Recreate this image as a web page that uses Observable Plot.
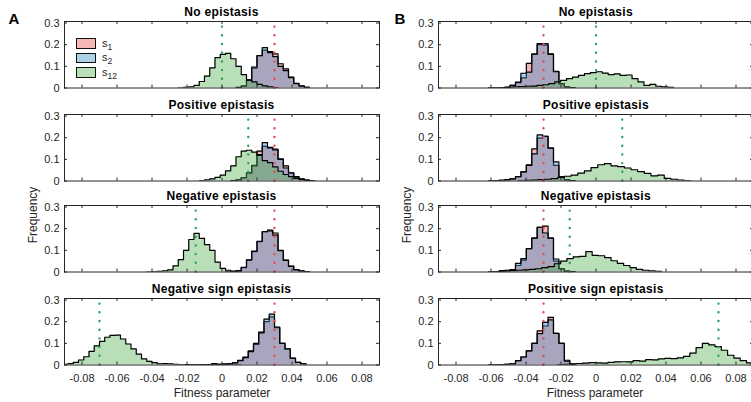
<!DOCTYPE html>
<html><head><meta charset="utf-8">
<script src="https://cdn.jsdelivr.net/npm/d3@7"></script>
<script src="https://cdn.jsdelivr.net/npm/@observablehq/plot@0.6"></script>
<style>
body{margin:0;background:#fff;}
#fig{position:relative;width:751px;height:402px;overflow:hidden;font-family:"Liberation Sans",Arial,sans-serif;color:#262626;}
.abs{position:absolute;white-space:nowrap;line-height:1;}
.ttl{font-weight:bold;font-size:12px;letter-spacing:0.3px;transform:translate(-50%,-50%);color:#000;}
.lab{font-size:12px;transform:translate(-50%,-50%);}
.ylab{font-size:12px;transform:translate(-50%,-50%) rotate(-90deg);}
.big{font-weight:bold;font-size:15px;transform:translate(-50%,-50%);color:#000;}
.sw{position:absolute;width:18px;height:8.5px;border:1px solid #111;}
.lg{font-size:11px;color:#262626;}
.lg sub{font-size:8.5px;vertical-align:-3px;}
</style></head><body><div id="fig"></div>
<script>
// ---------- axis / label data ----------
const xTicks = [-0.08, -0.06, -0.04, -0.02, 0, 0.02, 0.04, 0.06, 0.08];
const yTicks = [0, 0.1, 0.2, 0.3];
const titlesA = ["No epistasis", "Positive epistasis", "Negative epistasis", "Negative sign epistasis"];
const titlesB = ["No epistasis", "Positive epistasis", "Negative epistasis", "Positive sign epistasis"];
const seriesNames = ["s1", "s2", "s12"];
const trueS1 = [0.03, -0.03];               // column A, column B
const trueS12A = [0, 0.015, -0.015, -0.07];
const trueS12B = [0, 0.015, -0.015, 0.07];

// ---------- histogram data: first bin edge, bin width, frequencies ----------
// A1 No epistasis
const A1_start = [0.008, 0.008, -0.025], A1_width = [0.003, 0.003, 0.003];
const A1_s1 = [0.003,0.01,0.038,0.092,0.148,0.175,0.168,0.158,0.112,0.088,0.05,0.022,0.009,0.003];
const A1_s2 = [0.002,0.008,0.035,0.097,0.15,0.186,0.163,0.145,0.1,0.08,0.048,0.02,0.01,0.003];
const A1_s12 = [0.001,0.003,0.005,0.012,0.03,0.055,0.093,0.14,0.155,0.16,0.135,0.1,0.062,0.036,0.028,0.017,0.01,0.005,0.002];
// A2 Positive epistasis
const A2_start = [0.005, 0.005, -0.013], A2_width = [0.003, 0.003, 0.003];
const A2_s1 = [0.002,0.005,0.016,0.036,0.072,0.138,0.16,0.152,0.147,0.102,0.07,0.036,0.018,0.01,0.004,0.002];
const A2_s2 = [0.002,0.005,0.015,0.038,0.07,0.122,0.177,0.155,0.143,0.1,0.06,0.038,0.02,0.009,0.004,0.001];
const A2_s12 = [0.002,0.005,0.01,0.017,0.027,0.047,0.07,0.112,0.138,0.142,0.133,0.118,0.094,0.085,0.065,0.045,0.03,0.02,0.012,0.006,0.002];
// A3 Negative epistasis
const A3_start = [0.002, 0.002, -0.043], A3_width = [0.003, 0.003, 0.003];
const A3_s1 = [0.001,0.002,0.005,0.02,0.055,0.094,0.14,0.185,0.193,0.18,0.1,0.055,0.027,0.01,0.004,0.002];
const A3_s2 = [0.001,0.002,0.006,0.022,0.056,0.096,0.142,0.187,0.19,0.17,0.098,0.054,0.026,0.011,0.005,0.002];
const A3_s12 = [0.001,0.002,0.003,0.005,0.01,0.028,0.057,0.1,0.15,0.178,0.155,0.126,0.1,0.046,0.017,0.008,0.004,0.002];
// A4 Negative sign epistasis
const A4_start = [-0.021, -0.021, -0.091], A4_width = [0.003, 0.003, 0.003];
const A4_s1 = [0.001,0.001,0.001,0.001,0.002,0.002,0.003,0.004,0.007,0.011,0.022,0.036,0.065,0.1,0.152,0.2,0.222,0.172,0.1,0.073,0.031,0.012,0.005];
const A4_s2 = [0.001,0.001,0.001,0.001,0.002,0.006,0.003,0.004,0.005,0.01,0.02,0.034,0.062,0.096,0.148,0.212,0.235,0.175,0.1,0.075,0.032,0.012,0.005];
const A4_s12 = [0.003,0.006,0.012,0.023,0.038,0.063,0.088,0.109,0.128,0.137,0.138,0.12,0.097,0.074,0.05,0.028,0.017,0.011,0.005,0.006,0.005,0.003,0.002,0.002,0.001,0.001,0.001,0.001,0.001,0.001,0.001,0.001,0.0005,0.0005];
// B1 No epistasis
const B1_start = [-0.0615, -0.0615, -0.0542], B1_width = [0.0031, 0.0031, 0.0034];
const B1_s1 = [0.001,0.001,0.001,0.003,0.012,0.025,0.047,0.114,0.156,0.2,0.198,0.158,0.077,0.02,0.005,0.002];
const B1_s2 = [0.001,0.001,0.001,0.003,0.012,0.027,0.068,0.073,0.156,0.205,0.205,0.155,0.075,0.02,0.004,0.002];
const B1_s12 = [0.002,0.003,0.005,0.006,0.008,0.009,0.012,0.015,0.02,0.028,0.035,0.043,0.05,0.058,0.066,0.071,0.075,0.069,0.062,0.065,0.058,0.06,0.043,0.028,0.012,0.017,0.008,0.005,0.003];
// B2 Positive epistasis
const B2_start = [-0.0615, -0.0615, -0.0446], B2_width = [0.0031, 0.0031, 0.0038];
const B2_s1 = [0.001,0.002,0.004,0.006,0.01,0.02,0.042,0.075,0.148,0.198,0.206,0.152,0.072,0.02,0.005,0.002];
const B2_s2 = [0.001,0.001,0.001,0.004,0.01,0.02,0.042,0.072,0.125,0.213,0.206,0.152,0.088,0.02,0.005,0.002];
const B2_s12 = [0.002,0.003,0.004,0.006,0.008,0.011,0.017,0.022,0.027,0.036,0.047,0.062,0.075,0.08,0.07,0.066,0.06,0.052,0.043,0.035,0.024,0.027,0.012,0.008,0.004,0.002];
// B3 Negative epistasis
const B3_start = [-0.0615, -0.0615, -0.0562], B3_width = [0.0031, 0.0031, 0.0036];
const B3_s1 = [0.001,0.002,0.006,0.008,0.011,0.03,0.055,0.108,0.156,0.206,0.212,0.156,0.05,0.015,0.004,0.002];
const B3_s2 = [0.001,0.001,0.002,0.006,0.011,0.04,0.062,0.108,0.156,0.206,0.18,0.156,0.06,0.015,0.004,0.002];
const B3_s12 = [0.002,0.004,0.006,0.008,0.01,0.012,0.015,0.02,0.025,0.038,0.05,0.062,0.07,0.072,0.094,0.077,0.075,0.066,0.052,0.04,0.03,0.02,0.012,0.008,0.005,0.003];
// B4 Positive sign epistasis
const B4_start = [-0.0615, -0.0615, -0.022], B4_width = [0.0031, 0.0031, 0.0036];
const B4_s1 = [0.001,0.001,0.002,0.003,0.005,0.02,0.037,0.065,0.1,0.158,0.18,0.22,0.146,0.1,0.022,0.003];
const B4_s2 = [0.001,0.001,0.002,0.003,0.005,0.02,0.037,0.065,0.1,0.145,0.197,0.208,0.146,0.1,0.018,0.003];
const B4_s12 = [0.002,0.003,0.005,0.007,0.009,0.011,0.01,0.009,0.012,0.014,0.015,0.014,0.02,0.018,0.025,0.024,0.028,0.031,0.029,0.033,0.04,0.055,0.08,0.1,0.093,0.085,0.068,0.045,0.032,0.02,0.01,0.004];

// ---------- styling ----------
const fillColors = ["#e41a1c", "#3a8fcb", "#4daf4a"];
const fillOpacity = [0.32, 0.41, 0.4];
const dotRed = "#e5484b", dotGreen = "#2f9e5c";
const axisColor = "#262626";
const font = "'Liberation Sans', Arial, sans-serif";

const baselines = [87.7, 180.3, 271.7, 364.3];
const boxLefts = [64, 438.3];
const boxW = 315, boxH = 66.5;

const panels = [
  [[A1_s1, A1_s2, A1_s12], A1_start, A1_width],
  [[A2_s1, A2_s2, A2_s12], A2_start, A2_width],
  [[A3_s1, A3_s2, A3_s12], A3_start, A3_width],
  [[A4_s1, A4_s2, A4_s12], A4_start, A4_width],
  [[B1_s1, B1_s2, B1_s12], B1_start, B1_width],
  [[B2_s1, B2_s2, B2_s12], B2_start, B2_width],
  [[B3_s1, B3_s2, B3_s12], B3_start, B3_width],
  [[B4_s1, B4_s2, B4_s12], B4_start, B4_width]
];

function steps(start, width, h) {
  const pts = [{x: start, y: 0}];
  h.forEach((v, i) => {
    pts.push({x: start + i * width, y: v});
    pts.push({x: start + (i + 1) * width, y: v});
  });
  pts.push({x: start + h.length * width, y: 0});
  return pts;
}

const fig = document.getElementById("fig");
const fmtX = d => Math.abs(d) < 1e-9 ? "0" : d.toFixed(2);
const fmtY = d => d === 0 ? "0" : d.toFixed(1);

panels.forEach(([series, starts, widths], idx) => {
  const col = idx < 4 ? 0 : 1, row = idx % 4;
  const mL = 36, mR = 3, mT = 2, mB = row === 3 ? 24 : 2;
  const marks = [];
  series.forEach((h, s) => {
    const pts = steps(starts[s], widths[s], h);
    marks.push(Plot.areaY(pts, {x: "x", y1: 0, y2: "y", fill: fillColors[s], fillOpacity: fillOpacity[s], clip: true}));
    marks.push(Plot.line(pts, {x: "x", y: "y", stroke: "#000", strokeWidth: 1.2, clip: true}));
  });
  const s12True = col === 0 ? trueS12A[row] : trueS12B[row];
  marks.push(Plot.ruleX([s12True], {x: d => d, y1: 0, y2: 0.3, stroke: dotGreen, strokeWidth: 2.4, strokeDasharray: "0 8.7", strokeLinecap: "round"}));
  marks.push(Plot.ruleX([trueS1[col]], {x: d => d, y1: 0, y2: 0.3, stroke: dotRed, strokeWidth: 2.4, strokeDasharray: "0 8.7", strokeLinecap: "round"}));
  // inward ticks on all four sides
  marks.push(Plot.tickX(xTicks, {x: d => d, insetTop: boxH - 3, stroke: axisColor}));
  marks.push(Plot.tickX(xTicks, {x: d => d, insetBottom: boxH - 3, stroke: axisColor}));
  marks.push(Plot.tickY(yTicks, {y: d => d, insetRight: boxW - 3, stroke: axisColor}));
  marks.push(Plot.tickY(yTicks, {y: d => d, insetLeft: boxW - 3, stroke: axisColor}));
  marks.push(Plot.frame({stroke: axisColor, strokeWidth: 1}));

  const svg = Plot.plot({
    width: boxW + mL + mR,
    height: boxH + mT + mB,
    marginLeft: mL, marginRight: mR, marginTop: mT, marginBottom: mB,
    style: {background: "transparent", fontSize: "11px", fontFamily: font, color: axisColor, overflow: "visible"},
    x: {domain: [-0.09, 0.09], axis: row === 3 ? "bottom" : null, ticks: xTicks, tickSize: 0, tickPadding: 9, tickFormat: fmtX, label: null},
    y: {domain: [0, 0.307], axis: "left", ticks: yTicks, tickSize: 0, tickPadding: 5, tickFormat: fmtY, label: null},
    marks
  });
  svg.style.position = "absolute";
  svg.style.left = (boxLefts[col] - mL) + "px";
  svg.style.top = (baselines[row] - boxH - mT) + "px";
  svg.style.maxWidth = "none";
  fig.appendChild(svg);
});

function addText(cls, text, x, y) {
  const d = document.createElement("div");
  d.className = "abs " + cls;
  d.textContent = text;
  d.style.left = x + "px";
  d.style.top = y + "px";
  fig.appendChild(d);
  return d;
}

[0, 1].forEach(col => {
  const cx = boxLefts[col] + boxW / 2;
  const titles = col === 0 ? titlesA : titlesB;
  titles.forEach((t, row) => addText("ttl", t, cx, baselines[row] - boxH - 9));
  addText("lab", "Fitness parameter", col === 0 ? 222 : 595, 393);
  addText("ylab", "Frequency", col === 0 ? 32.5 : 407, 215);
});
addText("big", "A", 14, 18);
addText("big", "B", 400, 18);

// legend
const legendTops = [38, 52.5, 67];
seriesNames.forEach((name, s) => {
  const sw = document.createElement("div");
  sw.className = "sw";
  sw.style.left = "76px";
  sw.style.top = legendTops[s] + "px";
  const c = d3.rgb(fillColors[s]);
  const a = fillOpacity[s];
  sw.style.background = d3.rgb(255 - a * (255 - c.r), 255 - a * (255 - c.g), 255 - a * (255 - c.b)).formatHex();
  fig.appendChild(sw);
  const t = document.createElement("div");
  t.className = "abs lg";
  t.innerHTML = "s<sub>" + name.slice(1) + "</sub>";
  t.style.left = "102px";
  t.style.top = (legendTops[s] - 0.5) + "px";
  fig.appendChild(t);
});
</script></body></html>
